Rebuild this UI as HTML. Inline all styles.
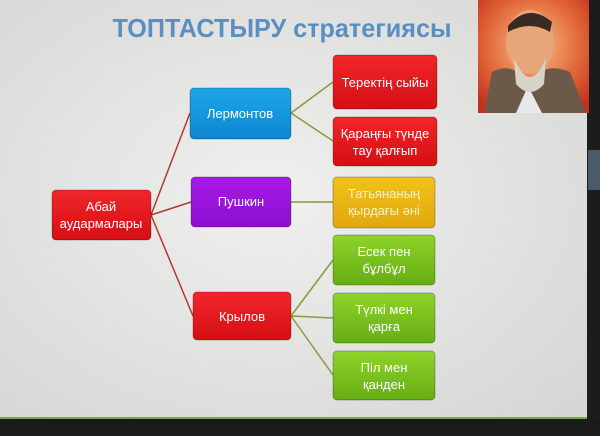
<!DOCTYPE html>
<html><head><meta charset="utf-8"><style>
html,body{margin:0;padding:0;width:600px;height:436px;overflow:hidden;background:#222}
svg{display:block}
text{font-family:"Liberation Sans","DejaVu Sans",sans-serif}
</style></head><body>
<svg width="600" height="436" viewBox="0 0 600 436" xmlns="http://www.w3.org/2000/svg">
<defs>
<radialGradient id="bg" cx="0.45" cy="0.45" r="0.7">
<stop offset="0" stop-color="#f0f0ee"/><stop offset="1" stop-color="#d6d6d4"/>
</radialGradient>
<linearGradient id="red" x1="0" y1="0" x2="0" y2="1"><stop offset="0" stop-color="#f0262a"/><stop offset="1" stop-color="#d50f14"/></linearGradient>
<linearGradient id="blue" x1="0" y1="0" x2="0" y2="1"><stop offset="0" stop-color="#1ea6ea"/><stop offset="1" stop-color="#0e86cf"/></linearGradient>
<linearGradient id="pur" x1="0" y1="0" x2="0" y2="1"><stop offset="0" stop-color="#a81ae8"/><stop offset="1" stop-color="#8a0fd0"/></linearGradient>
<linearGradient id="yel" x1="0" y1="0" x2="0" y2="1"><stop offset="0" stop-color="#f2c21a"/><stop offset="1" stop-color="#e0a80e"/></linearGradient>
<linearGradient id="grn" x1="0" y1="0" x2="0" y2="1"><stop offset="0" stop-color="#8ed42a"/><stop offset="1" stop-color="#66ad14"/></linearGradient>
<radialGradient id="por" cx="0.5" cy="0.4" r="0.7"><stop offset="0" stop-color="#f6c38a"/><stop offset="0.6" stop-color="#e2683a"/><stop offset="1" stop-color="#c23020"/></radialGradient>
</defs>
<rect width="600" height="436" fill="url(#bg)"/>
<rect x="587" y="0" width="13" height="436" fill="#1c1c1c"/>
<rect x="588" y="150" width="12" height="40" fill="#4a5a6a"/>
<rect x="0" y="419" width="600" height="17" fill="#1a1a1a"/>
<rect x="0" y="417" width="587" height="2" fill="#6ab04a"/>
<!-- portrait -->
<rect x="478" y="0" width="111" height="113" fill="url(#por)"/>
<path d="M484 113 L492 72 Q515 60 528 86 Q542 60 570 72 L586 113Z" fill="#6b5a48"/>
<path d="M516 113 L528 86 L542 113Z" fill="#e8e8ec"/>
<ellipse cx="530" cy="42" rx="24" ry="32" fill="#e7a57a"/>
<path d="M508 26 Q528 2 552 22 L550 32 Q530 20 508 32Z" fill="#3a2a20"/>
<path d="M514 58 Q530 96 546 58 L544 84 Q530 100 516 84Z" fill="#d8d2c8"/>
<!-- title -->
<text x="282" y="37" text-anchor="middle" font-size="26" font-weight="bold" fill="#5b8fc2" textLength="339" lengthAdjust="spacingAndGlyphs">ТОПТАСТЫРУ стратегиясы</text>
<g stroke="#b03a30" stroke-width="1.5" fill="none">
<line x1="151" y1="215" x2="190" y2="113"/>
<line x1="151" y1="215" x2="191" y2="202"/>
<line x1="151" y1="215" x2="193" y2="316"/>
</g>
<g stroke="#8a9a3a" stroke-width="1.5" fill="none">
<line x1="291" y1="113" x2="333" y2="82"/>
<line x1="291" y1="113" x2="333" y2="141"/>
<line x1="291" y1="202" x2="333" y2="202"/>
<line x1="291" y1="316" x2="333" y2="260"/>
<line x1="291" y1="316" x2="333" y2="318"/>
<line x1="291" y1="316" x2="333" y2="375"/>
</g>
<g stroke-width="1" stroke="rgba(0,0,0,0.25)">
<rect x="52" y="190" width="99" height="50" rx="4" fill="url(#red)"/>
<rect x="190" y="88" width="101" height="51" rx="4" fill="url(#blue)"/>
<rect x="191" y="177" width="100" height="50" rx="4" fill="url(#pur)"/>
<rect x="193" y="292" width="98" height="48" rx="4" fill="url(#red)"/>
<rect x="333" y="55" width="104" height="54" rx="4" fill="url(#red)"/>
<rect x="333" y="117" width="104" height="49" rx="4" fill="url(#red)"/>
<rect x="333" y="177" width="102" height="51" rx="4" fill="url(#yel)"/>
<rect x="333" y="235" width="102" height="50" rx="4" fill="url(#grn)"/>
<rect x="333" y="293" width="102" height="50" rx="4" fill="url(#grn)"/>
<rect x="333" y="351" width="102" height="49" rx="4" fill="url(#grn)"/>
</g>
<g font-size="13" fill="#fff" text-anchor="middle">
<text x="101" y="211">Абай</text>
<text x="101" y="228">аудармалары</text>
<text x="240" y="118">Лермонтов</text>
<text x="241" y="206">Пушкин</text>
<text x="242" y="321">Крылов</text>
<text x="385" y="87">Теректің сыйы</text>
<text x="385" y="138">Қараңғы түнде</text>
<text x="385" y="155">тау қалғып</text>
<text x="384" y="198" fill="#fdf2c0">Татьянаның</text>
<text x="384" y="215" fill="#fdf2c0">қырдағы әні</text>
<text x="384" y="256">Есек пен</text>
<text x="384" y="273">бұлбұл</text>
<text x="384" y="314">Түлкі мен</text>
<text x="384" y="331">қарға</text>
<text x="384" y="372">Піл мен</text>
<text x="384" y="389">қанден</text>
</g>
</svg>
</body></html>
